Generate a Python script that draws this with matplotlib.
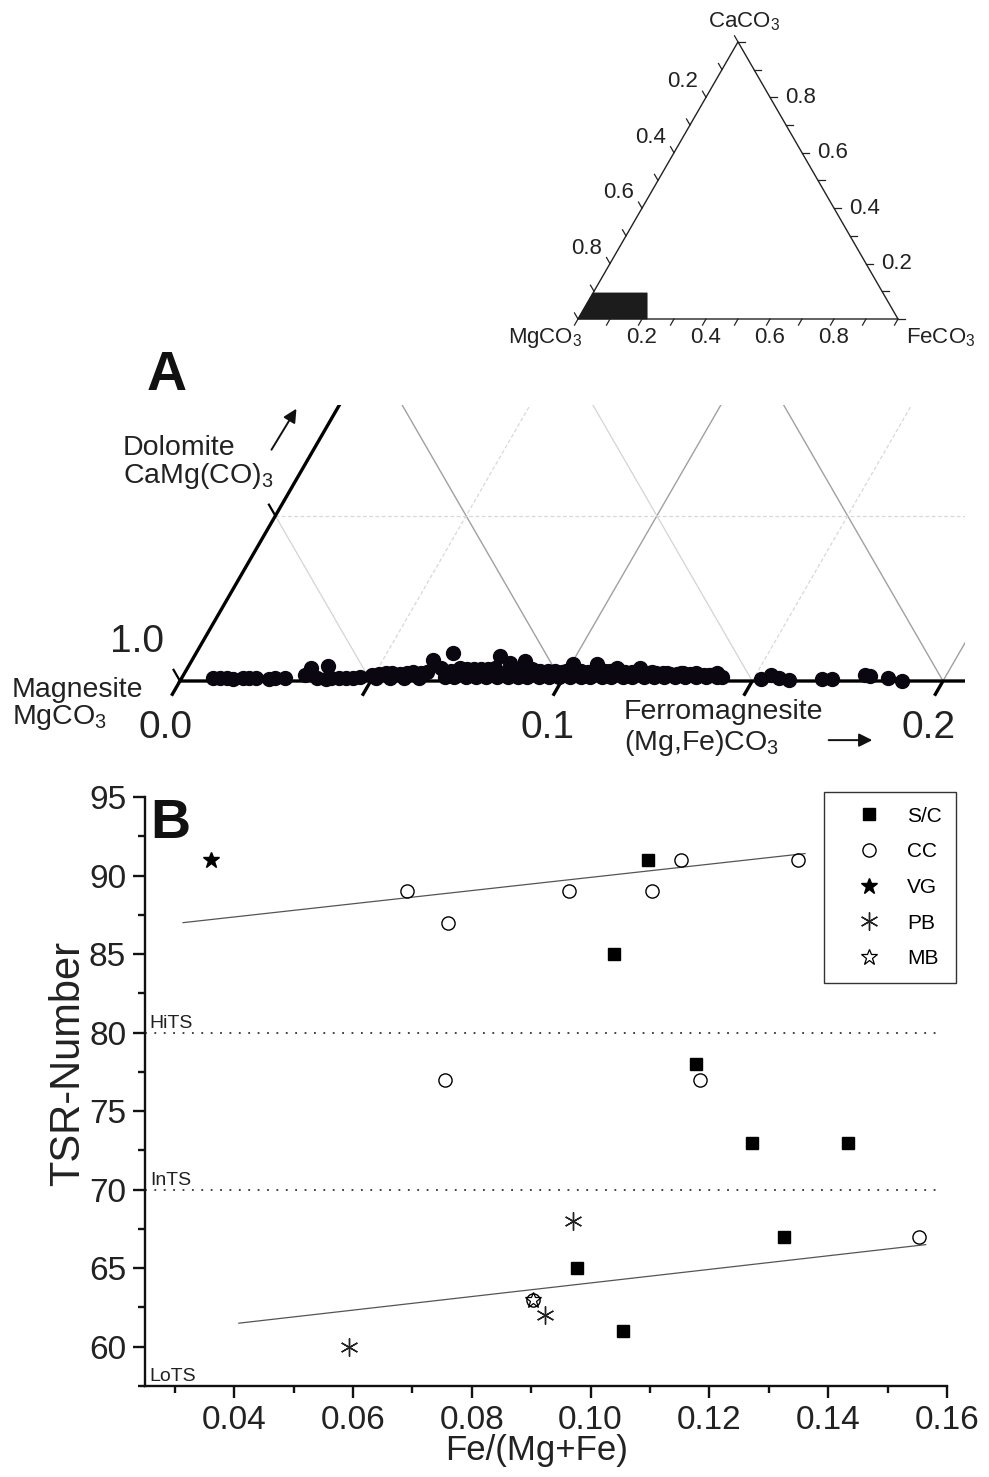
import numpy as np
import matplotlib.pyplot as plt
from matplotlib.lines import Line2D
from matplotlib.patches import Polygon, Rectangle

plt.rcParams['font.family'] = ['Liberation Sans', 'DejaVu Sans']

W, H = 989, 1477
SQ = np.sqrt(3) / 2

# ---- panel A : carbonate analyses, Fe and Ca mole fractions (rest = Mg) ----
fe_a = [0.0082, 0.0100, 0.0119, 0.0161, 0.0176, 0.0195, 0.0245, 0.0271,
        0.0318, 0.0324, 0.0355, 0.0366, 0.0391, 0.0413, 0.0431, 0.0449, 0.0465,
        0.0493, 0.0510, 0.0527, 0.0545, 0.0565, 0.0582, 0.0598, 0.0619, 0.0635,
        0.0631, 0.0665, 0.0674, 0.0715, 0.0734, 0.0753, 0.0771, 0.0789, 0.0806,
        0.0801, 0.0838, 0.0866, 0.0874, 0.0905, 0.0929, 0.0950, 0.0968, 0.0988,
        0.1005, 0.1034, 0.1055, 0.1068, 0.1099, 0.1117, 0.1125, 0.1153, 0.1172,
        0.1186, 0.1215, 0.1236, 0.1254, 0.1273, 0.1293, 0.1306, 0.1327, 0.1345,
        0.1365, 0.1383, 0.1396, 0.1415,
        0.0689, 0.0712, 0.0744, 0.0771, 0.0797, 0.0825, 0.0853, 0.0880, 0.0904,
        0.0936, 0.0961, 0.0988, 0.1016, 0.1046, 0.1070, 0.1101, 0.1124, 0.1156,
        0.1180, 0.1211, 0.1237, 0.1263, 0.1292, 0.1319, 0.1347, 0.1374, 0.1401,
        0.0695, 0.0732, 0.0771, 0.0808, 0.0845, 0.0884, 0.0921, 0.0960, 0.0997,
        0.1036, 0.1073, 0.1112, 0.1149, 0.1188, 0.1225, 0.1264, 0.1301, 0.1340,
        0.1377, 0.0508, 0.0546, 0.0583, 0.0621, 0.0230, 0.0137, 0.0380,
        0.1520, 0.1541, 0.1565, 0.1595, 0.1679, 0.1705, 0.1786, 0.1800, 0.1852,
        0.1893]
ca_a = [0.0009, 0.0009, 0.0009, 0.0009, 0.0009, 0.0009, 0.0009, 0.0009,
        0.0018, 0.0039, 0.0009, 0.0045, 0.0009, 0.0009, 0.0009, 0.0009, 0.0012,
        0.0018, 0.0021, 0.0024, 0.0024, 0.0021, 0.0024, 0.0027, 0.0024, 0.0027,
        0.0064, 0.0039, 0.0085, 0.0039, 0.0036, 0.0036, 0.0036, 0.0036, 0.0039,
        0.0076, 0.0054, 0.0033, 0.0061, 0.0036, 0.0030, 0.0030, 0.0030, 0.0027,
        0.0051, 0.0027, 0.0027, 0.0051, 0.0030, 0.0030, 0.0039, 0.0027, 0.0027,
        0.0039, 0.0024, 0.0024, 0.0024, 0.0021, 0.0021, 0.0024, 0.0021, 0.0021,
        0.0018, 0.0018, 0.0024, 0.0012,
        0.0012, 0.0012, 0.0012, 0.0012, 0.0012, 0.0012, 0.0012, 0.0012, 0.0012,
        0.0012, 0.0012, 0.0012, 0.0012, 0.0012, 0.0012, 0.0012, 0.0012, 0.0012,
        0.0012, 0.0012, 0.0012, 0.0012, 0.0012, 0.0012, 0.0012, 0.0012, 0.0012,
        0.0030, 0.0033, 0.0030, 0.0033, 0.0030, 0.0030, 0.0030, 0.0027, 0.0030,
        0.0030, 0.0027, 0.0030, 0.0027, 0.0027, 0.0027, 0.0024, 0.0024, 0.0024,
        0.0018, 0.0009, 0.0009, 0.0009, 0.0009, 0.0006, 0.0006, 0.0006,
        0.0006, 0.0018, 0.0009, 0.0003, 0.0006, 0.0006, 0.0018, 0.0015, 0.0009,
        0.0000]

# ---- inset : full ternary, black box = window of panel A ----
inset_labels = [0.2, 0.4, 0.6, 0.8]
box_x_max = 0.216
box_ca_max = 0.094

# ---- panel B ----
sc_x = [0.1097, 0.1039, 0.1178, 0.1271, 0.1434, 0.1326, 0.0978, 0.1055]
sc_y = [91, 85, 78, 73, 73, 67, 65, 61]
cc_x = [0.0691, 0.0760, 0.0963, 0.1104, 0.1153, 0.1350, 0.0755, 0.1185, 0.1553, 0.0903]
cc_y = [89, 87, 89, 89, 91, 91, 77, 77, 67, 63]
vg_x = [0.0361]
vg_y = [91]
pb_x = [0.0593, 0.0970, 0.0923]
pb_y = [60, 68, 62]
mb_x = [0.0903]
mb_y = [63]
fit_hi_x = [0.0314, 0.1361]
fit_hi_y = [87.0, 91.4]
fit_lo_x = [0.0408, 0.1564]
fit_lo_y = [61.5, 66.5]
zone_levels = [80, 70]
zone_end = 0.1585


def tern(fe, ca):
    fe = np.asarray(fe, float)
    ca = np.asarray(ca, float)
    return fe + ca / 2, ca * SQ


def fxy(px, py):
    return px / W, 1 - py / H


fig = plt.figure(figsize=(W / 100, H / 100), dpi=100)

# ================= inset ternary =================
S_T = 320.0
axT = fig.add_axes([490 / W, 1 - 360 / H, 499 / W, 360 / H])
axT.set_xlim(-88 / S_T, 411 / S_T)
axT.set_ylim(-41 / S_T, 319 / S_T)
axT.axis('off')
axT.add_patch(Polygon([(0, 0), (1, 0), (0.5, SQ)], closed=True, fill=False,
                      lw=1.0, ec='#222222'))
bl = tern(0, box_ca_max)
axT.add_patch(Polygon([(0, 0), bl, (box_x_max, bl[1]), (box_x_max, 0)],
                      closed=True, fc='#1c1c1c', ec='#1c1c1c', lw=0.5))
tl = 7 / S_T
for v in np.arange(0, 1.01, 0.1):
    axT.plot([v, v - tl / 2], [0, -tl * SQ], color='#222222', lw=0.9)
    x0, y0 = v / 2, v * SQ
    axT.plot([x0, x0 - tl / 2], [y0, y0 + tl * SQ], color='#222222', lw=0.9)
    x1 = 1 - v / 2
    axT.plot([x1, x1 + tl], [y0, y0], color='#222222', lw=0.9)
for v in inset_labels:
    axT.text(v, -0.075, f'{v:.1f}', ha='center', va='baseline', fontsize=16, color='#222222')
    c = 1 - v
    axT.text(c / 2 - 0.072, c * SQ + 0.031, f'{v:.1f}', ha='center', va='baseline',
             fontsize=16, color='#222222')
    axT.text(1 - v / 2 + 0.094, v * SQ - 0.018, f'{v:.1f}', ha='center', va='baseline',
             fontsize=16, color='#222222')
fig.text(*fxy(708, 27), r'CaCO$_\mathregular{3}$', fontsize=16, va='baseline', color='#222222')
fig.text(*fxy(508, 343), r'MgCO$_\mathregular{3}$', fontsize=16, va='baseline', color='#222222')
fig.text(*fxy(906, 343), r'FeCO$_\mathregular{3}$', fontsize=16, va='baseline', color='#222222')

# ================= panel A =================
S_A = 3815.0
axA = fig.add_axes([0, 1 - 775 / H, 1, 380 / H])
axA.set_xlim(-180 / S_A, 809 / S_A)
axA.set_ylim(-94 / S_A, 286 / S_A)
axA.axis('off')
y_top = 276 / S_A
x_right = 785 / S_A
clip = Rectangle((-1, -1), 1 + x_right, 1 + y_top, transform=axA.transData)

g_major = dict(color='#a0a0a0', lw=1.0)
g_minor = dict(color='#d4d4d4', lw=0.9)
g_dash = dict(color='#d8d8d8', lw=0.9, ls=(0, (3, 2)))
lines = []
for f, st_fe, st_mg in [(0.05, g_dash, g_minor), (0.1, g_major, g_major),
                        (0.15, g_dash, g_minor), (0.2, g_major, g_major)]:
    xa, ya = tern([f, f], [0, 0.2])
    lines += axA.plot(xa, ya, **st_fe)
    xb, yb = tern([f, 0], [0, f])
    lines += axA.plot(xb, yb, **st_mg)
xc, yc = tern([0, 0.95], [0.05, 0.05])
lines += axA.plot(xc, yc, **g_dash)
xe, ye = tern([0, 0, 1], [0.2, 0, 0])
lines += axA.plot(xe, ye, color='black', lw=2.4, solid_joinstyle='miter')
for ln in lines:
    ln.set_clip_path(clip)

L1 = 17 / S_A
for f in [0, 0.05, 0.1, 0.15, 0.2]:
    axA.plot([f, f - L1 / 2], [0, -L1 * SQ], color='black', lw=2.4, solid_capstyle='butt')
L2 = 14 / S_A
for c in [0, 0.05]:
    x0, y0 = tern(0, c)
    axA.plot([x0, x0 - L2 / 2], [y0, y0 + L2 * SQ], color='black', lw=1.6, solid_capstyle='butt')

pa_x, pa_y = tern(fe_a, ca_a)
axA.plot(pa_x, pa_y, 'o', ms=10, color='#0a0710', mec='#0a0710', zorder=5)

for f, lab in [(0, '0.0'), (0.1, '0.1'), (0.2, '0.2')]:
    axA.text(f - 0.0037, -0.0149, lab, ha='center', va='baseline', fontsize=28, color='#222222')
axA.text(-0.0113, 0.0076, '1.0', ha='center', va='baseline', fontsize=28, color='#222222')

arr = dict(arrowstyle='-|>', lw=1.4, color='#111111', mutation_scale=20)
axA.annotate('', xy=(0.0309, 0.0720), xytext=(0.0236, 0.0600), arrowprops=arr)
axA.annotate('', xy=(0.1822, -0.0155), xytext=(0.1693, -0.0155), arrowprops=arr)

fs_a = 20.5
fig.text(*fxy(123, 455), 'Dolomite', fontsize=fs_a, va='baseline', color='#222222')
fig.text(*fxy(123, 483), r'CaMg(CO)$_\mathregular{3}$', fontsize=fs_a, va='baseline', color='#222222')
fig.text(*fxy(12, 697), 'Magnesite', fontsize=fs_a, va='baseline', color='#222222')
fig.text(*fxy(12, 724), r'MgCO$_\mathregular{3}$', fontsize=fs_a, va='baseline', color='#222222')
fig.text(*fxy(624, 719), 'Ferromagnesite', fontsize=fs_a, va='baseline', color='#222222')
fig.text(*fxy(624, 750), r'(Mg,Fe)CO$_\mathregular{3}$', fontsize=fs_a, va='baseline', color='#222222')
fig.text(*fxy(147, 390), 'A', fontsize=40, fontweight='bold', va='baseline', color='#111111')

# ================= panel B =================
axB = fig.add_axes([145 / W, 1 - 1386 / H, 802 / W, 589 / H])
axB.set_xlim(0.025, 0.16)
axB.set_ylim(57.5, 95)
axB.spines[['top', 'right']].set_visible(False)
for s in ['left', 'bottom']:
    axB.spines[s].set_linewidth(1.7)
    axB.spines[s].set_color('#111111')
xt = [0.04, 0.06, 0.08, 0.10, 0.12, 0.14, 0.16]
axB.set_xticks(xt)
axB.set_xticklabels([f'{v:.2f}' for v in xt])
axB.set_xticks(np.arange(0.03, 0.151, 0.02), minor=True)
axB.set_yticks(np.arange(60, 96, 5))
axB.set_yticks(np.arange(57.5, 95, 5), minor=True)
axB.tick_params(which='major', length=8.5, width=1.7, labelsize=24, pad=5,
                color='#111111', labelcolor='#222222')
axB.tick_params(which='minor', length=5, width=1.7, color='#111111')

axB.hlines(zone_levels, 0.025, zone_end, colors='#333333', lw=1.3, linestyles=(0, (1, 4.2)))
for y, lab in [(80.3, 'HiTS'), (70.3, 'InTS'), (57.8, 'LoTS')]:
    axB.text(0.0258, y, lab, fontsize=14, va='baseline', color='#222222')

axB.plot(fit_hi_x, fit_hi_y, color='#555555', lw=0.9)
axB.plot(fit_lo_x, fit_lo_y, color='#555555', lw=0.9)

sty_sc = dict(ls='none', marker='s', ms=8.5, color='black')
sty_cc = dict(ls='none', marker='o', ms=9.5, mfc='none', mec='black', mew=1.0)
sty_vg = dict(ls='none', marker='*', ms=12, color='black')
sty_pb = dict(ls='none', marker=(6, 2, 0), ms=13, mec='#222222', mew=1.0)
sty_mb = dict(ls='none', marker='*', ms=12, mfc='none', mec='black', mew=0.9)
axB.plot(sc_x, sc_y, **sty_sc)
axB.plot(cc_x, cc_y, **sty_cc)
axB.plot(vg_x, vg_y, **sty_vg)
axB.plot(pb_x, pb_y, **sty_pb)
axB.plot(mb_x, mb_y, **sty_mb)

handles = [Line2D([], [], **sty_sc), Line2D([], [], **sty_cc), Line2D([], [], **sty_vg),
           Line2D([], [], **sty_pb), Line2D([], [], **sty_mb)]
leg = axB.legend(handles, ['S/C', 'CC', 'VG', 'PB', 'MB'], loc='upper left',
                 bbox_to_anchor=fxy(824, 792), bbox_transform=fig.transFigure,
                 fancybox=False, edgecolor='#333333', framealpha=1, fontsize=15,
                 borderpad=0.7, handlelength=2.92, handletextpad=0.37, labelspacing=0.8,
                 borderaxespad=0)
leg.get_frame().set_linewidth(1.0)

axB.set_xlabel('Fe/(Mg+Fe)', fontsize=25, color='#222222', va='top')
axB.xaxis.set_label_coords((537 - 145) / 802, -(1434 - 1386) / 589)
axB.set_ylabel('TSR-Number', fontsize=30, color='#222222')
axB.yaxis.set_label_coords((88 - 145) / 802, (1386 - 1063) / 589)
fig.text(*fxy(150, 838), 'B', fontsize=40, fontweight='bold', va='baseline', color='#111111')

fig.savefig('out.png', dpi=100)
